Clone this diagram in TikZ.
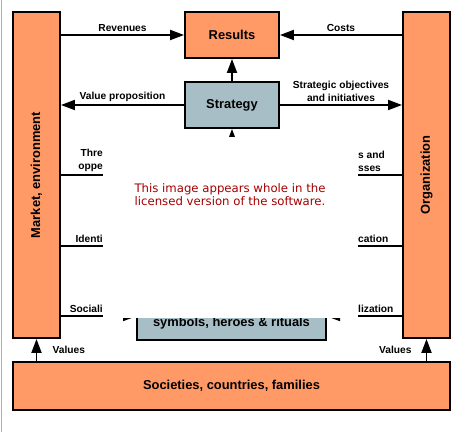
\documentclass[tikz,border=0pt]{standalone}
\usepackage{fontspec}
\setmainfont{Liberation Sans}
\newfontfamily\wmfont{DejaVu Sans}
\usetikzlibrary{arrows.meta,positioning,calc}
\definecolor{boxorange}{RGB}{255,153,102}
\definecolor{boxblue}{RGB}{167,190,198}
\definecolor{wmred}{RGB}{165,0,0}

\begin{document}
\begin{tikzpicture}[
    x=0.03cm, y=-0.03cm,
    font=\fontsize{11}{13}\selectfont\bfseries,
    block/.style={rectangle, draw, line width=1.6pt, fill=boxorange, align=center, inner sep=2pt},
    bluebox/.style={rectangle, draw, line width=1.6pt, fill=boxblue, align=center, inner sep=2pt},
    flow/.style={->, >={Triangle[length=4.2mm,width=3mm]}, line width=1.6pt},
    link/.style={line width=1.6pt},
    lbl/.style={font=\fontsize{8.7}{11}\selectfont\bfseries, align=center, inner sep=2pt},
    cut/.style={lbl, inner xsep=0pt},
    cover/.style={rectangle, fill=white, draw=none, inner sep=0pt},
]
\useasboundingbox (0,0) rectangle (470,432);
\draw[gray!60, line width=1.2pt] (1.5,0) -- (1.5,432);

% ---------- side walls ----------
\node[block, minimum width=1.41cm, minimum height=9.78cm,
      label={[rotate=90]center:Market, environment}] (market) at (36.5,175) {};
\node[block, minimum width=1.41cm, minimum height=9.78cm,
      label={[rotate=90]center:Organization}] (org) at (426.5,175) {};

% ---------- centre column ----------
\node[block, minimum width=2.82cm, minimum height=1.38cm] (results) at (232,35) {Results};
\node[bluebox, minimum width=2.82cm, minimum height=1.38cm] (strategy) at (232,105) {Strategy};
\node[bluebox, minimum width=5.67cm, minimum height=1.02cm] (culture) at (231.5,323) {symbols, heroes \& rituals};

% ---------- base ----------
\node[block, minimum width=13.11cm, minimum height=1.44cm] (society) at (231.5,386) {Societies, countries, families};

% ---------- top flows ----------
\draw[flow] (market.east |- results.west) -- node[lbl, above] {Revenues} (results.west);
\draw[flow] (org.west |- results.east) -- node[lbl, above] {Costs} (results.east);
\draw[flow] (strategy.west) -- node[lbl, above] {Value proposition} (market.east |- strategy.west);
\draw[flow] (strategy.east) -- node[lbl, above] {Strategic objectives\\and initiatives} (org.west |- strategy.east);
\draw[flow] (strategy.north) -- (results.south);
\draw[flow] (culture.north) -- (strategy.south);

% ---------- side links ----------
\coordinate (tl1) at (130,175);
\coordinate (tl2) at (130,246);
\coordinate (sl)  at (137,316);
\coordinate (tr1) at (330,175);
\coordinate (tr2) at (330,246);
\coordinate (sr)  at (326,316);
\draw[link] (market.east |- tl1) -- (tl1);
\draw[link] (market.east |- tl2) -- (tl2);
\draw[flow] (market.east |- sl) -- (sl);
\draw[link] (org.west |- tr1) -- (tr1);
\draw[link] (org.west |- tr2) -- (tr2);
\draw[flow] (org.west |- sr) -- (sr);

% ---------- values ----------
\draw[flow] (society.north -| market.south) -- node[lbl, right=11pt] {Values} (market.south);
\draw[flow] (society.north -| org.south) -- node[lbl, left=10pt] {Values} (org.south);

% ---------- watermark ----------
\node[cover, minimum width=7.65cm, minimum height=5.43cm] (wm) at (230.5,227.5) {};
\node[font=\wmfont\mdseries\fontsize{10}{11}\selectfont, text=wmred, align=center] (wmtext) at (230,195)
  {This image appears whole in the\\licensed version of the software.};

% ---------- cut labels ----------
\node[cut, anchor=south east, align=right] at (103,174) {Thre\\oppe};
\node[cut, anchor=south east] at (103,245) {Identi};
\node[cut, anchor=south east] at (103,315) {Sociali};
\node[cut, anchor=south west, align=left] at (358,174) {s and\\sses};
\node[cut, anchor=south west] at (358,245) {cation};
\node[cut, anchor=south west] at (358,315) {lization};

\end{tikzpicture}
\end{document}
